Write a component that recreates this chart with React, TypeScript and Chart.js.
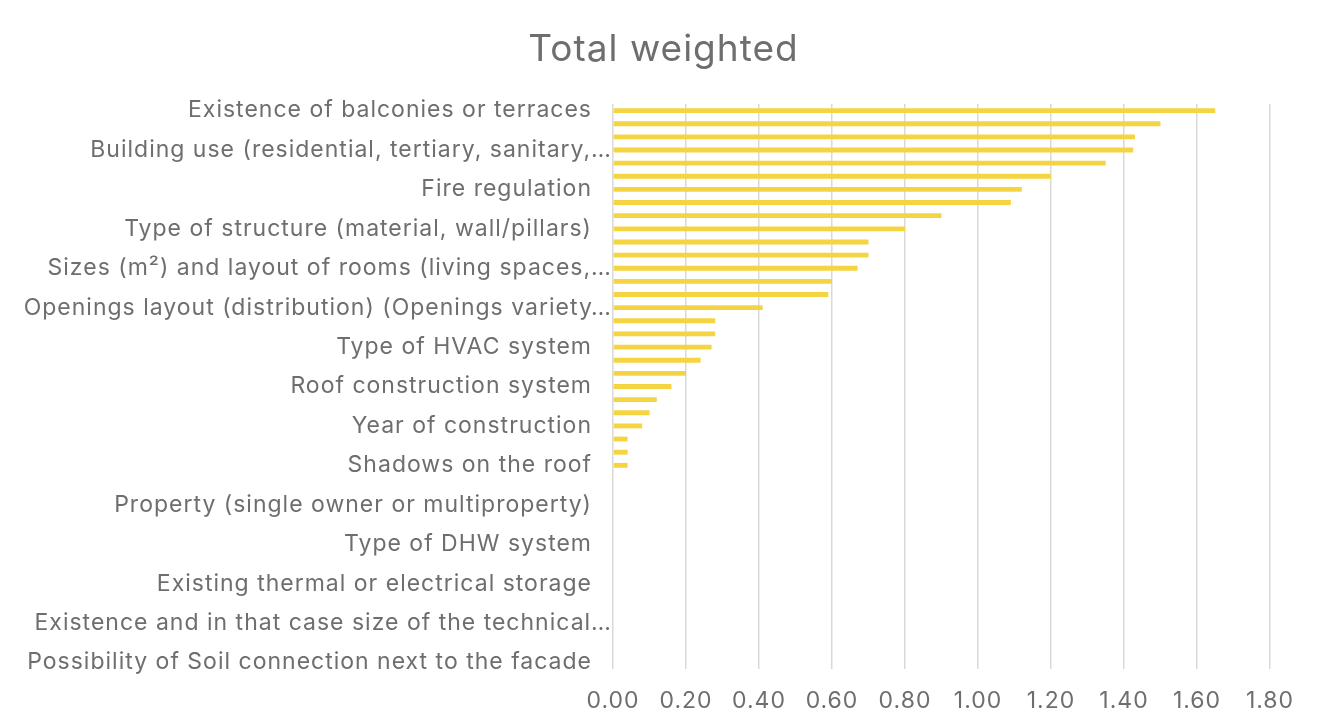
import React, { useEffect, useRef } from "react";
import { Chart, registerables } from "chart.js";

Chart.register(...registerables);

// Criteria, ordered by weighted score; only every third one is labelled on the axis.
const criteria: string[] = [
  "Existence of balconies or terraces", "", "",
  "Building use (residential, tertiary, sanitary,…", "", "",
  "Fire regulation", "", "",
  "Type of structure (material, wall/pillars)", "", "",
  "Sizes (m²) and layout of rooms (living spaces,…", "", "",
  "Openings layout (distribution) (Openings variety…", "", "",
  "Type of HVAC system", "", "",
  "Roof construction system", "", "",
  "Year of construction", "", "",
  "Shadows on the roof", "", "",
  "Property (single owner or multiproperty)", "", "",
  "Type of DHW system", "", "",
  "Existing thermal or electrical storage", "", "",
  "Existence and in that case size of the technical…", "", "",
  "Possibility of Soil connection next to the facade",
];

const totalWeighted: number[] = [
  1.65, 1.5, 1.43, 1.425, 1.35, 1.2, 1.12, 1.09, 0.9, 0.8,
  0.7, 0.7, 0.67, 0.6, 0.59, 0.41, 0.28, 0.28, 0.27, 0.24,
  0.2, 0.16, 0.12, 0.1, 0.08, 0.04, 0.04, 0.04, 0, 0,
  0, 0, 0, 0, 0, 0, 0, 0, 0, 0,
  0, 0, 0,
];

const chartTitle = "Total weighted";

const xMin = 0;
const xMax = 1.8;
const xStep = 0.2;

const FONT = "Inter, 'Open Sans', sans-serif";
const TEXT = "#6e6e6e";
const LABEL_SIZE = 23;

const CANVAS_W = 1317;
const CANVAS_H = 722;

// Slightly open tracking for all chart text.
const trackingPlugin = {
  id: "tracking",
  beforeUpdate(chart: any) {
    chart.ctx.letterSpacing = "1px";
  },
  beforeDraw(chart: any) {
    chart.ctx.letterSpacing = "1px";
  },
};

// Light frame around the whole chart.
const framePlugin = {
  id: "frame",
  beforeDraw(chart: any) {
    const { ctx } = chart;
    ctx.save();
    ctx.strokeStyle = "#d9d9d9";
    ctx.lineWidth = 2;
    ctx.strokeRect(1, 1, chart.width - 2, chart.height + 10);
    ctx.restore();
  },
};

// Title centred on the chart, and category labels where shortened
// labels (ending in an ellipsis) run right up to the plot edge.
const textPlugin = {
  id: "chartText",
  afterDraw(chart: any) {
    const { ctx, chartArea } = chart;
    const yScale = chart.scales.y;
    ctx.save();
    ctx.letterSpacing = "1px";
    ctx.fillStyle = TEXT;

    ctx.font = `37px ${FONT}`;
    ctx.textAlign = "center";
    ctx.textBaseline = "middle";
    ctx.fillText(chartTitle, chart.width / 2 - 1, 44);

    ctx.font = `${LABEL_SIZE}px ${FONT}`;
    ctx.textAlign = "right";
    criteria.forEach((label, i) => {
      if (!label) return;
      const y = yScale.getPixelForValue(i);
      const x = label.endsWith("…") ? chartArea.left - 1 : chartArea.left - 21;
      ctx.fillText(label, x, y);
    });
    ctx.restore();
  },
};

export default function App() {
  const canvasRef = useRef<HTMLCanvasElement | null>(null);

  useEffect(() => {
    if (!canvasRef.current) return;
    const chart = new Chart(canvasRef.current, {
      type: "bar",
      data: {
        labels: criteria,
        datasets: [
          {
            label: chartTitle,
            data: totalWeighted,
            backgroundColor: "#F5D442",
            borderWidth: 0,
            categoryPercentage: 1,
            barPercentage: 0.37,
          },
        ],
      },
      plugins: [trackingPlugin, framePlugin, textPlugin],
      options: {
        indexAxis: "y",
        animation: false,
        responsive: false,
        layout: { padding: { left: 0, right: 53, top: 98, bottom: 0 } },
        plugins: {
          legend: { display: false },
          tooltip: { enabled: false },
          title: { display: false },
        },
        scales: {
          x: {
            type: "linear",
            min: xMin,
            max: xMax,
            ticks: {
              stepSize: xStep,
              color: TEXT,
              font: { family: FONT, size: LABEL_SIZE },
              padding: 18,
              callback: (v: any) => Number(v).toFixed(2),
            },
            grid: { color: "#d9d9d9", lineWidth: 1.5, drawTicks: false },
            border: { display: false },
            afterFit: (scale: any) => {
              scale.height = 59;
            },
          },
          y: {
            type: "category",
            ticks: { display: false, autoSkip: false },
            grid: { display: false, drawTicks: false },
            border: { display: false },
            afterFit: (scale: any) => {
              scale.width = 607;
            },
          },
        },
      },
    });
    return () => chart.destroy();
  }, []);

  return (
    <div style={{ marginLeft: -2, marginTop: -2, width: CANVAS_W, height: CANVAS_H, background: "#ffffff" }}>
      <canvas ref={canvasRef} width={CANVAS_W} height={CANVAS_H} style={{ display: "block" }} />
    </div>
  );
}
